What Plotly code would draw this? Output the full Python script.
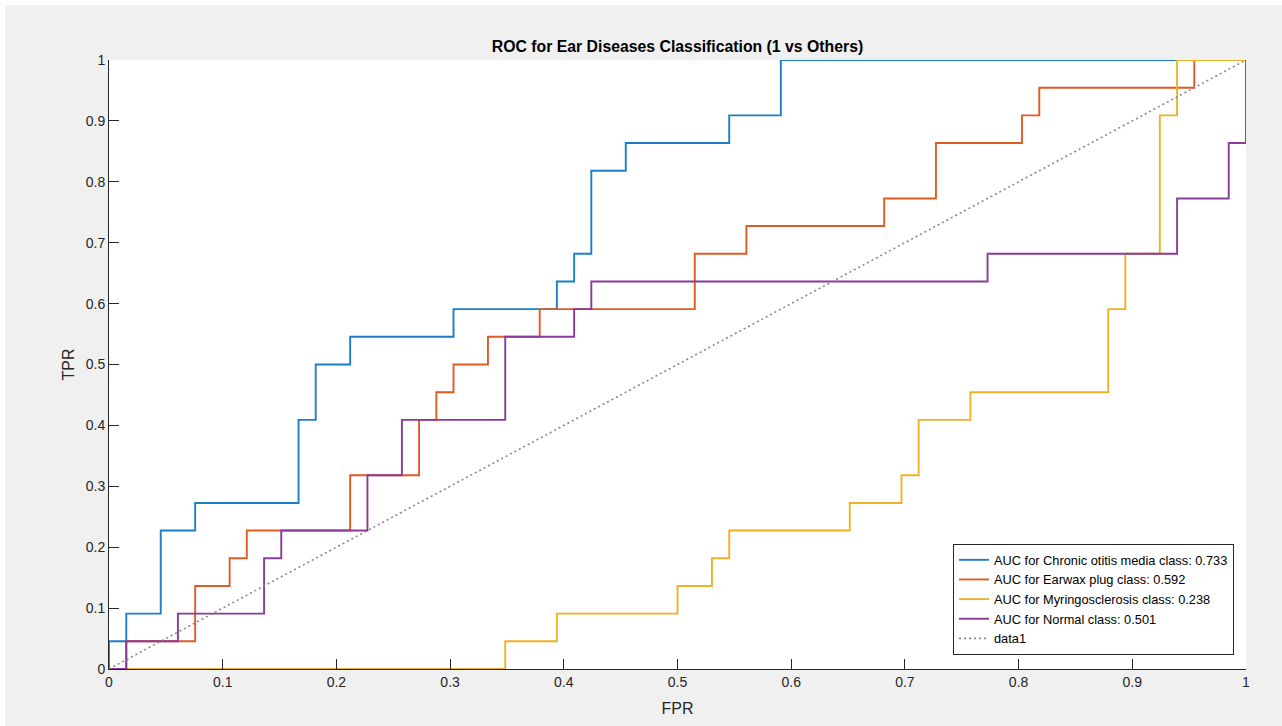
import plotly.graph_objects as go

# ---- data (ROC vertices) ----
fpr_chronic = [0, 0, 0.0152, 0.0152, 0.0455, 0.0455, 0.0758, 0.0758, 0.1667, 0.1667, 0.1818, 0.1818,
               0.2121, 0.2121, 0.3030, 0.3030, 0.3939, 0.3939, 0.4091, 0.4091, 0.4242, 0.4242,
               0.4545, 0.4545, 0.5455, 0.5455, 0.5909, 0.5909, 1]
tpr_chronic = [0, 0.0455, 0.0455, 0.0909, 0.0909, 0.2273, 0.2273, 0.2727, 0.2727, 0.4091, 0.4091, 0.5,
               0.5, 0.5455, 0.5455, 0.5909, 0.5909, 0.6364, 0.6364, 0.6818, 0.6818, 0.8182,
               0.8182, 0.8636, 0.8636, 0.9091, 0.9091, 1, 1]

fpr_earwax = [0, 0.0152, 0.0152, 0.0758, 0.0758, 0.1061, 0.1061, 0.1212, 0.1212, 0.2121, 0.2121,
              0.2727, 0.2727, 0.2879, 0.2879, 0.3030, 0.3030, 0.3333, 0.3333, 0.3788, 0.3788,
              0.5152, 0.5152, 0.5606, 0.5606, 0.6818, 0.6818, 0.7273, 0.7273, 0.8030, 0.8030,
              0.8182, 0.8182, 0.9545, 0.9545, 1]
tpr_earwax = [0, 0, 0.0455, 0.0455, 0.1364, 0.1364, 0.1818, 0.1818, 0.2273, 0.2273, 0.3182,
              0.3182, 0.4091, 0.4091, 0.4545, 0.4545, 0.5, 0.5, 0.5455, 0.5455, 0.5909,
              0.5909, 0.6818, 0.6818, 0.7273, 0.7273, 0.7727, 0.7727, 0.8636, 0.8636, 0.9091,
              0.9091, 0.9545, 0.9545, 1, 1]

fpr_myringo = [0, 0.3485, 0.3485, 0.3939, 0.3939, 0.5, 0.5, 0.5303, 0.5303, 0.5455, 0.5455,
               0.6515, 0.6515, 0.6970, 0.6970, 0.7121, 0.7121, 0.7576, 0.7576, 0.8788, 0.8788,
               0.8939, 0.8939, 0.9242, 0.9242, 0.9394, 0.9394, 1]
tpr_myringo = [0, 0, 0.0455, 0.0455, 0.0909, 0.0909, 0.1364, 0.1364, 0.1818, 0.1818, 0.2273,
               0.2273, 0.2727, 0.2727, 0.3182, 0.3182, 0.4091, 0.4091, 0.4545, 0.4545, 0.5909,
               0.5909, 0.6818, 0.6818, 0.9091, 0.9091, 1, 1]

fpr_normal = [0, 0.0152, 0.0152, 0.0606, 0.0606, 0.1364, 0.1364, 0.1515, 0.1515, 0.2273, 0.2273,
              0.2576, 0.2576, 0.3485, 0.3485, 0.4091, 0.4091, 0.4242, 0.4242, 0.7727, 0.7727,
              0.9394, 0.9394, 0.9848, 0.9848, 1, 1]
tpr_normal = [0, 0, 0.0455, 0.0455, 0.0909, 0.0909, 0.1818, 0.1818, 0.2273, 0.2273, 0.3182,
              0.3182, 0.4091, 0.4091, 0.5455, 0.5455, 0.5909, 0.5909, 0.6364, 0.6364, 0.6818,
              0.6818, 0.7727, 0.7727, 0.8636, 0.8636, 1]

diag_x = [0, 1]
diag_y = [0, 1]

labels = ["AUC for Chronic otitis media class: 0.733",
          "AUC for Earwax plug class: 0.592",
          "AUC for Myringosclerosis class: 0.238",
          "AUC for Normal class: 0.501",
          "data1"]
tick_vals = [0, 0.1, 0.2, 0.3, 0.4, 0.5, 0.6, 0.7, 0.8, 0.9, 1]
tick_text = ["0", "0.1", "0.2", "0.3", "0.4", "0.5", "0.6", "0.7", "0.8", "0.9", "1"]

colors = ["#1a7fc8", "#e05a24", "#efb227", "#8a3a9a"]

# ---- figure ----
W, H = 1282, 726
L, R, T, B = 109, 36, 60, 57
pw, ph = W - L - R, H - T - B

fig = go.Figure()
series = [(fpr_chronic, tpr_chronic), (fpr_earwax, tpr_earwax),
          (fpr_myringo, tpr_myringo), (fpr_normal, tpr_normal)]
for (xs, ys), name, c in zip(series, labels[:4], colors):
    fig.add_trace(go.Scatter(x=xs, y=ys, mode="lines", name=name,
                             line=dict(color=c, width=1.9), cliponaxis=False))
fig.add_trace(go.Scatter(x=diag_x, y=diag_y, mode="lines", name=labels[4],
                         line=dict(color="#888888", width=1.6, dash="2px,3px")))

font_family = "Liberation Sans, Arial, sans-serif"
axis_common = dict(
    range=[0, 1], showgrid=False, zeroline=False, showline=True,
    linecolor="#262626", linewidth=1, ticks="inside", ticklen=10,
    tickcolor="#262626", tickwidth=1, tickvals=tick_vals, ticktext=tick_text,
    tickfont=dict(family=font_family, size=14, color="#262626"),
    mirror=False, fixedrange=True,
)

def px_x(p):
    return (p - L) / pw

def px_y(p):
    return (H - B - p) / ph

fig.update_layout(
    width=W, height=H,
    margin=dict(l=L, r=R, t=T, b=B),
    paper_bgcolor="#f0f0f0",
    plot_bgcolor="#ffffff",
    title=dict(text="<b>ROC for Ear Diseases Classification (1 vs Others)</b>",
               x=0.5, xref="paper", xanchor="center",
               y=1 - 46 / H, yref="container", yanchor="middle",
               font=dict(family=font_family, size=15.8, color="#000000")),
    xaxis=dict(axis_common, title=dict(text="FPR", standoff=14,
               font=dict(family=font_family, size=16, color="#262626"))),
    yaxis=dict(axis_common, title=dict(text="TPR", standoff=7,
               font=dict(family=font_family, size=16, color="#262626"))),
    legend=dict(x=px_x(1234), y=px_y(655), xanchor="right", yanchor="bottom",
                bgcolor="#ffffff", bordercolor="#262626", borderwidth=1,
                font=dict(family=font_family, size=12.8, color="#000000"),
                tracegroupgap=0),
    showlegend=True,
    shapes=[
        dict(type="rect", xref="paper", yref="paper",
             x0=px_x(0), x1=px_x(5), y0=px_y(H), y1=px_y(0),
             fillcolor="#ffffff", line=dict(width=0), layer="below"),
        dict(type="rect", xref="paper", yref="paper",
             x0=px_x(0), x1=px_x(W), y0=px_y(5), y1=px_y(0),
             fillcolor="#ffffff", line=dict(width=0), layer="below"),
    ],
)

fig.write_html("out.html")
